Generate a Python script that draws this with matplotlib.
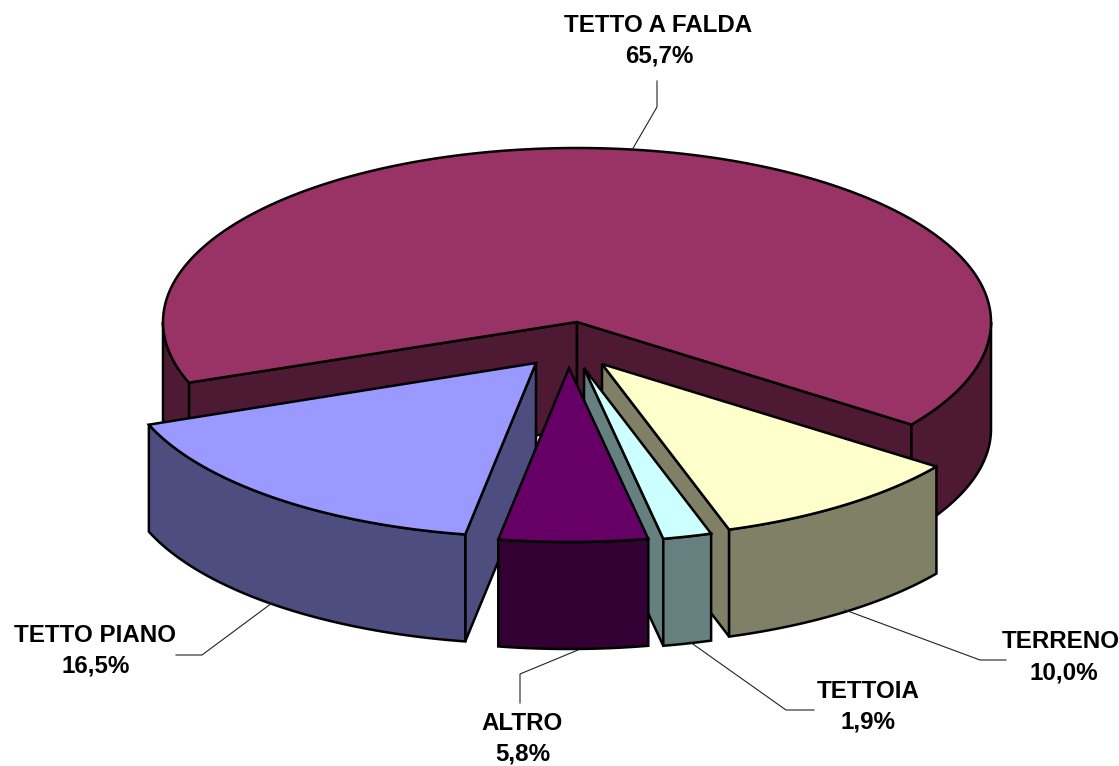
import numpy as np
import matplotlib
matplotlib.use("Agg")
import matplotlib.pyplot as plt
from matplotlib.patches import Polygon

categories = ["TETTO A FALDA", "TERRENO", "TETTOIA", "ALTRO", "TETTO PIANO"]
values = [65.7, 10.0, 1.9, 5.8, 16.5]
top_colors = ["#993366", "#FFFFCC", "#CCFFFF", "#660066", "#9999FF"]
side_colors = ["#4D1933", "#808066", "#668080", "#330033", "#4D4D80"]
explode_x = [0, 25, 7, -8, -41]
explode_y = [0, 42, 46, 46, 41]
label_x = [658, 1061, 868, 522, 95]
label_y = [25, 642, 691, 723, 635]
pct_x = [659, 1064, 868, 523, 96]
pct_y = [56, 673, 722, 754, 666]
leaders = [
    [(657, 81), (657, 107), (632, 150)],
    [(845, 610), (980, 660), (1006, 660)],
    [(690, 642), (786, 710), (814, 710)],
    [(578, 650), (520, 674), (520, 703)],
    [(272, 603), (202, 655), (176, 655)],
]

CX, CY, RX, RY, DEPTH = 577, 322, 414, 174, 107
START = 159.6  # screen-clockwise angle where the largest slice begins
LW = 1.8

fig = plt.figure(figsize=(11.19, 7.66), dpi=100)
ax = fig.add_axes([0, 0, 1, 1])
ax.set_xlim(0, 1119)
ax.set_ylim(766, 0)
ax.axis("off")


def rim(a0, a1, cx, cy):
    t = np.radians(np.linspace(a0, a1, max(int(abs(a1 - a0) * 2), 2) + 1))
    return np.column_stack([cx + RX * np.cos(t), cy + RY * np.sin(t)])


def draw_poly(pts, color):
    ax.add_patch(Polygon(pts, closed=True, facecolor=color, edgecolor="black",
                         linewidth=LW, joinstyle="miter"))


down = np.array([0, DEPTH])
slices = []
angle = START
for v, tc, sc, dx, dy in zip(values, top_colors, side_colors, explode_x, explode_y):
    slices.append((angle, angle + v * 3.6, tc, sc, dx, dy))
    angle += v * 3.6

# painter's order: slices nearest the viewer go last
slices.sort(key=lambda s: np.sin(np.radians((s[0] + s[1]) / 2)))

for a0, a1, tc, sc, dx, dy in slices:
    cx, cy = CX + dx, CY + dy
    apex = np.array([cx, cy], float)
    arc = rim(a0, a1, cx, cy)
    # cut faces: only those turned towards the viewer
    if np.cos(np.radians(a0)) < 0:
        draw_poly(np.array([apex, arc[0], arc[0] + down, apex + down]), sc)
    if np.cos(np.radians(a1)) > 0:
        draw_poly(np.array([apex, arc[-1], arc[-1] + down, apex + down]), sc)
    # outer wall: only the parts of the rim facing the viewer
    for lo, hi in ((0, 180), (360, 540)):
        s, e = max(a0, lo), min(a1, hi)
        if e > s:
            part = rim(s, e, cx, cy)
            draw_poly(np.vstack([part, (part + down)[::-1]]), sc)
    # top surface
    draw_poly(np.vstack([apex, arc]), tc)

for pts in leaders:
    xs, ys = zip(*pts)
    ax.plot(xs, ys, color="#222222", lw=0.8, solid_joinstyle="miter")

for name, v, x, y, px, py in zip(categories, values, label_x, label_y, pct_x, pct_y):
    pct = f"{v:.1f}".replace(".", ",") + "%"
    for txt, xx, yy in ((name, x, y), (pct, px, py)):
        ax.text(xx, yy, txt, ha="center", va="center", color="black",
                family="Liberation Sans", weight="bold", fontsize=17.4)

fig.savefig("out.png", dpi=100)
